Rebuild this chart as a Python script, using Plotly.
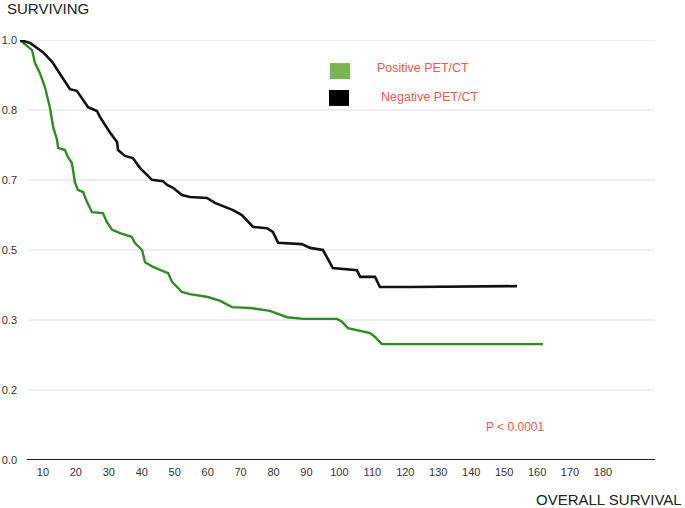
import plotly.graph_objects as go

# Kaplan-Meier curves (time, surviving fraction)
neg_time = [3.0, 6.1, 10.0, 12.8, 15.8, 18.2, 20.3, 21.9, 23.7, 26.4, 27.3, 30.4, 32.5, 32.8,
            34.9, 37.3, 39.5, 41.6, 43.1, 46.4, 47.7, 49.5, 52.2, 54.6, 59.8, 62.2, 64.7, 67.7,
            70.4, 73.8, 78.0, 79.8, 81.4, 88.6, 91.1, 95.0, 96.2, 98.0, 105.3, 106.3, 110.8,
            112.3, 121.4, 153.9]
neg_surv = [1.000, 0.993, 0.971, 0.948, 0.912, 0.883, 0.879, 0.862, 0.840, 0.831, 0.817, 0.779,
            0.757, 0.738, 0.724, 0.719, 0.695, 0.679, 0.667, 0.664, 0.655, 0.648, 0.631, 0.626,
            0.624, 0.612, 0.605, 0.595, 0.583, 0.555, 0.552, 0.543, 0.517, 0.514, 0.505, 0.500,
            0.483, 0.457, 0.452, 0.436, 0.436, 0.412, 0.412, 0.414]

pos_time = [3.0, 6.7, 7.6, 9.1, 10.6, 12.1, 13.1, 14.3, 14.6, 16.7, 17.6, 18.8, 19.7, 20.6,
            22.2, 23.4, 24.9, 28.2, 29.4, 31.0, 33.4, 37.0, 37.9, 40.1, 41.0, 43.4, 48.0, 49.2,
            52.2, 54.6, 60.1, 63.8, 67.4, 72.9, 78.9, 84.1, 89.0, 99.3, 100.8, 102.6, 109.3,
            110.8, 112.9, 161.8]
pos_surv = [1.000, 0.976, 0.945, 0.921, 0.888, 0.840, 0.793, 0.762, 0.743, 0.738, 0.721, 0.707,
            0.662, 0.643, 0.638, 0.614, 0.590, 0.588, 0.567, 0.548, 0.540, 0.531, 0.517, 0.500,
            0.471, 0.460, 0.445, 0.424, 0.400, 0.395, 0.388, 0.379, 0.364, 0.362, 0.355, 0.340,
            0.336, 0.336, 0.329, 0.314, 0.302, 0.293, 0.276, 0.276]

x_ticks = [10, 20, 30, 40, 50, 60, 70, 80, 90, 100, 110, 120, 130, 140, 150, 160, 170, 180]
y_tickvals = [0, 1/6, 2/6, 3/6, 4/6, 5/6, 1]
y_ticktext = ["0.0", "0.2", "0.3", "0.5", "0.7", "0.8", "1.0"]

series_names = ["Positive PET/CT", "Negative PET/CT"]
p_text = "P < 0.0001"

FONT = "Liberation Sans, Arial, Helvetica, sans-serif"
GREEN_LINE = "#2f8c22"
GREEN_KEY = "#79b653"
BLACK = "#111111"
RED = "#f0584c"

X_MIN, X_MAX = 3.04, 195.8
GRID_X0 = 5.46

fig = go.Figure()
fig.add_trace(go.Scatter(x=pos_time, y=pos_surv, mode="lines", name=series_names[0],
                         line=dict(color=GREEN_LINE, width=2.4), showlegend=False))
fig.add_trace(go.Scatter(x=neg_time, y=neg_surv, mode="lines", name=series_names[1],
                         line=dict(color=BLACK, width=2.6), showlegend=False))

shapes = []
for v in y_tickvals[1:]:
    shapes.append(dict(type="line", xref="x", yref="y", x0=GRID_X0, x1=X_MAX, y0=v, y1=v,
                       line=dict(color="#dcdcdc", width=1), layer="below"))
shapes.append(dict(type="line", xref="x", yref="y", x0=GRID_X0 - 0.3, x1=X_MAX, y0=0, y1=0,
                   line=dict(color="#222222", width=2)))
# legend keys
shapes.append(dict(type="rect", xref="paper", yref="paper", x0=0.488, x1=0.520, y0=0.907, y1=0.945,
                   fillcolor=GREEN_KEY, line=dict(width=0)))
shapes.append(dict(type="rect", xref="paper", yref="paper", x0=0.4866, x1=0.5181, y0=0.843, y1=0.881,
                   fillcolor="#000000", line=dict(width=0)))

annotations = [
    dict(text="SURVIVING", xref="paper", yref="paper", x=-0.024, y=1.076, xanchor="left",
         yanchor="middle", showarrow=False, font=dict(size=15, color="#222222", family=FONT)),
    dict(text="OVERALL SURVIVAL", xref="paper", yref="paper", x=1.046, y=-0.093, xanchor="right",
         yanchor="middle", showarrow=False, font=dict(size=15, color="#222222", family=FONT)),
    dict(text=series_names[0], xref="paper", yref="paper", x=0.559, y=0.933, xanchor="left",
         yanchor="middle", showarrow=False, font=dict(size=12.5, color=RED, family=FONT)),
    dict(text=series_names[1], xref="paper", yref="paper", x=0.565, y=0.864, xanchor="left",
         yanchor="middle", showarrow=False, font=dict(size=12.5, color=RED, family=FONT)),
    dict(text=p_text, xref="paper", yref="paper", x=0.731, y=0.0786, xanchor="left",
         yanchor="middle", showarrow=False, font=dict(size=12, color=RED, family=FONT)),
]

fig.update_layout(
    width=685, height=508,
    margin=dict(l=20, r=30, t=40, b=48, pad=0, autoexpand=False),
    paper_bgcolor="white", plot_bgcolor="white",
    font=dict(family=FONT, size=11, color="#333333"),
    shapes=shapes, annotations=annotations,
    xaxis=dict(range=[X_MIN, X_MAX], tickvals=x_ticks, showgrid=False, zeroline=False,
               showline=False, ticks="", tickfont=dict(size=11, color="#333333"),
               ticklabelstandoff=4, fixedrange=True, automargin=False),
    yaxis=dict(range=[0, 1], tickvals=y_tickvals, ticktext=y_ticktext, showgrid=False,
               zeroline=False, showline=False, ticks="", tickfont=dict(size=11, color="#333333"),
               ticklabelstandoff=2, fixedrange=True, automargin=False),
)

fig.write_html("out.html", config={"displayModeBar": False, "staticPlot": True},
               post_script="document.body.style.margin='0px';document.body.style.padding='0px';")
